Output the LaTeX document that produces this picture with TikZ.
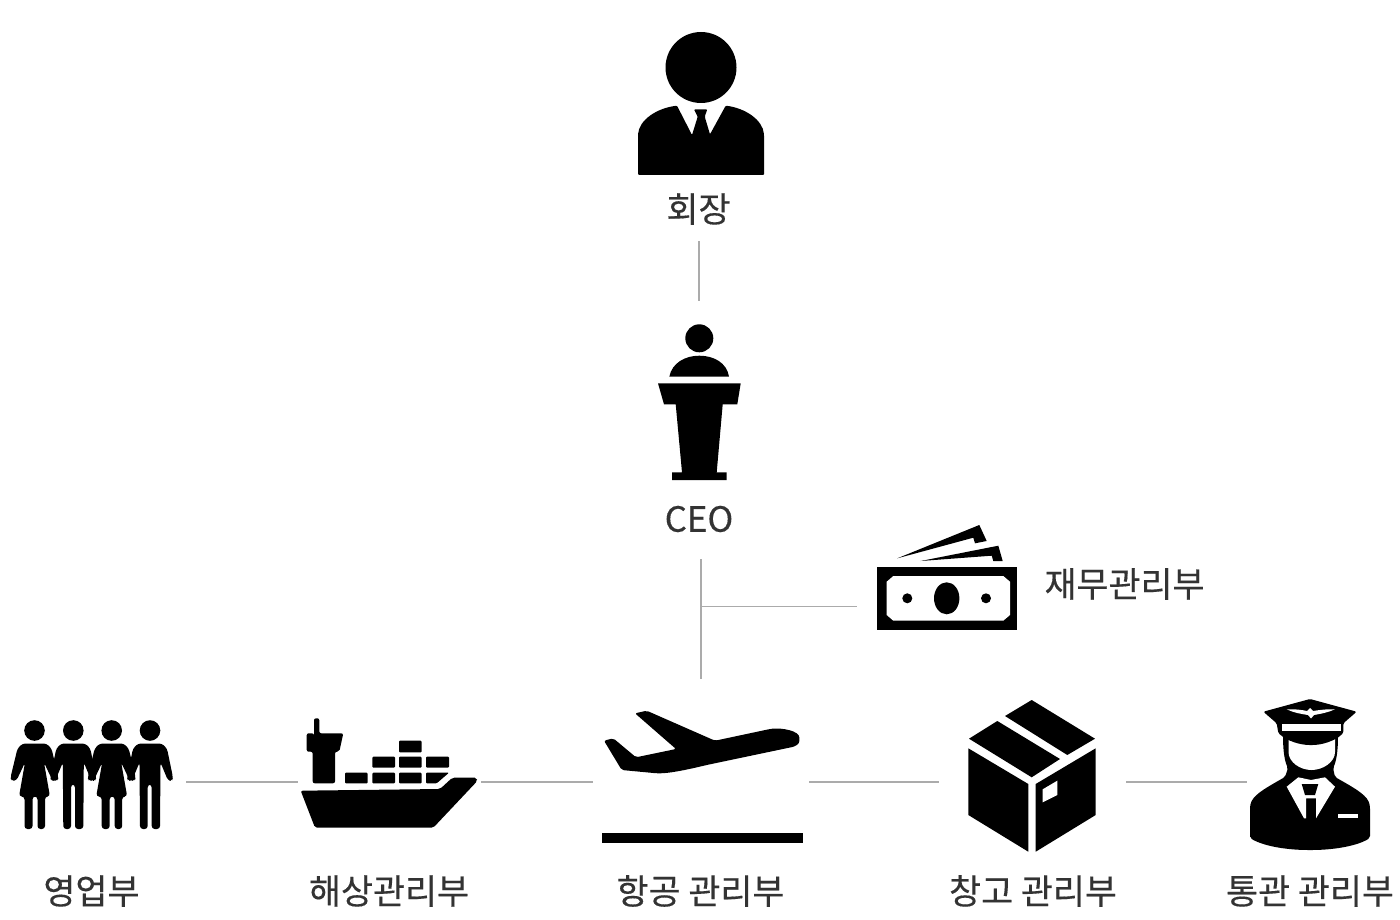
\documentclass[tikz,border=0pt]{standalone}
\usepackage{fontspec}
\setmainfont{Noto Sans CJK KR}[RawFeature={embolden=0.35}]
\definecolor{txt}{HTML}{333333}
\definecolor{linegray}{HTML}{ABABAB}
\tikzset{
  label/.style={inner sep=0pt,text=txt,font=\fontsize{34.8}{40}\selectfont,anchor=center},
  link/.style={draw=linegray,line width=1.5pt},
  ico/.style={fill=black,draw=none},
  hole/.style={fill=white,draw=none},
  woman/.pic={
    \fill[black] (0,-13) circle (10.3);
    \fill[black,rounded corners=3pt] (-12,0) -- (12,0) -- (17,5) -- (24,34) -- (23,37.5) -- (18,37) -- (9.5,19) -- (15.5,53) -- (10.5,53) -- (10.5,85.5) -- (3,85.5) -- (3,53) -- (-2,53) -- (-2,85.5) -- (-10,85.5) -- (-10,53) -- (-15.5,53) -- (-9.5,19) -- (-18,37) -- (-23,37.5) -- (-24,34) -- (-17,5) -- cycle;
  },
  man/.pic={
    \fill[black] (0,-13) circle (10.3);
    \fill[black,rounded corners=3pt] (-12,0) -- (12,0) -- (17,5) -- (23,34) -- (22,37.5) -- (18,37) -- (10.5,19) -- (10,85.5) -- (1.7,85.5) -- (1.7,41) -- (-2.3,41) -- (-2.3,85.5) -- (-10,85.5) -- (-10.5,19) -- (-18,37) -- (-22,37.5) -- (-23,34) -- (-17,5) -- cycle;
  }
}
\begin{document}
\begin{tikzpicture}[x=1pt,y=-1pt]
\useasboundingbox (0,0) rectangle (1400,920);
% labels
\node[label] (chair) at (698.5,209) {회장};
\node[label] (ceo) at (699,519) {CEO};
\node[label] (fin) at (1124.5,584) {재무관리부};
\node[label] (sales) at (91.5,891) {영업부};
\node[label] (sea) at (389,891) {해상관리부};
\node[label] (air) at (700.5,891) {항공 관리부};
\node[label] (ware) at (1033,891) {창고 관리부};
\node[label] (cust) at (1310,891) {통관 관리부};
% connector ends
\coordinate (c1a) at (699,241); \coordinate (c1b) at (699,301);
\coordinate (c2a) at (701,559); \coordinate (c2b) at (701,679);
\coordinate (c2m) at (701,606.5); \coordinate (c2e) at (857,606.5);
\coordinate (h1a) at (186,782); \coordinate (h1b) at (298,782);
\coordinate (h2a) at (481,782); \coordinate (h2b) at (593,782);
\coordinate (h3a) at (809,782); \coordinate (h3b) at (939,782);
\coordinate (h4a) at (1126,782); \coordinate (h4b) at (1247,782);
\draw[link] (c1a) -- (c1b);
\draw[link] (c2a) -- (c2b);
\draw[link] (c2m) -- (c2e);
\draw[link] (h1a) -- (h1b);
\draw[link] (h2a) -- (h2b);
\draw[link] (h3a) -- (h3b);
\draw[link] (h4a) -- (h4b);
% chairman
\fill[ico] (701,67.5) circle (35.5);
\fill[ico,rounded corners=1pt] (638,175) -- (638,135) .. controls (639,120) and (657,108) .. (677,105.7) -- (692,135) -- (697.7,116.7) -- (694,109.3) -- (707.3,109.3) -- (704.7,116.7) -- (710,134.3) -- (725.7,105.7) .. controls (745,108) and (763,120) .. (764,135) -- (764,175) -- cycle;
% podium
\fill[ico] (699.3,338.3) circle (14);
\fill[ico] (669.3,376.7) .. controls (672,363) and (685,355.7) .. (699.3,355.7) .. controls (714,355.7) and (727,363) .. (729,376.7) -- cycle;
\fill[ico] (658,383.3) -- (740.7,383.3) -- (737.3,404.3) -- (722.7,404.3) -- (716.7,472.3) -- (726.7,472.3) -- (726.7,480) -- (672,480) -- (672,472.3) -- (682,472.3) -- (675.7,404.3) -- (664,404.3) -- cycle;
% money
\fill[ico] (877.3,566.7) rectangle (1016.7,630);
\fill[hole] (886.7,581.7) -- (893.3,576) -- (1003.3,576) -- (1010,581.7) -- (1010,615) -- (1003.3,620.7) -- (893.3,620.7) -- (886.7,615) -- cycle;
\fill[ico] (946.7,598.3) ellipse (12.7 and 16);
\fill[ico] (907.3,598.3) circle (5);
\fill[ico] (986,598.3) circle (5);
\fill[ico] (897.3,558.3) -- (979.3,525) -- (986.7,541) -- (975,543.3) -- (973.3,537.7) -- cycle;
\fill[ico] (920.7,561) -- (998.3,545.7) -- (1002.7,561) -- (993.3,561) -- (991.7,555.7) -- cycle;
% people
\pic at (34.5,743.5) {woman};
\pic at (73.3,743.5) {man};
\pic at (111.7,743.5) {woman};
\pic at (150,743.5) {man};
% ship
\fill[ico,rounded corners=2pt] (314,736) -- (314,718.3) -- (319.3,718.3) -- (319.3,733.3) -- (343.3,733.3) -- (339.3,751.7) -- (335,751.7) -- (335,783.3) -- (312.7,783.3) -- (312.7,751.7) -- (306.7,751.7) -- (306.7,733.3) -- (314,733.3) -- cycle;
\fill[ico,rounded corners=2pt] (300.7,790.7) -- (440,789) -- (452.3,777.7) -- (476.7,777.7) -- (477.3,781) -- (433.3,827.7) -- (315,827.7) -- cycle;
\foreach \xa/\xb/\ya/\yb in {345/367.7/772.7/783.3, 372.3/395/772.7/783.3, 399/421.7/772.7/783.3, 372.3/395/756.7/767.7, 399/421.7/756.7/767.7, 426/449/756.7/767.7, 399/421.7/740.7/752.3}
  \fill[ico,rounded corners=1pt] (\xa,\ya) rectangle (\xb,\yb);
\fill[ico,rounded corners=1pt] (426,772.7) -- (449,772.7) -- (436.7,783.3) -- (426,783.3) -- cycle;
% plane
\fill[ico,rounded corners=2pt] (635,713.3) -- (646.7,710.7) -- (715,740.7) -- (770,729) .. controls (782,727.5) and (799.3,731) .. (799.3,739.3) .. controls (799.3,744) and (795,746.5) .. (790,747.5) -- (706.7,765) .. controls (690,769) and (670,773.5) .. (656.7,773.3) -- (621.7,770) -- (604,740.7) -- (613.3,738.3) -- (636,757.3) -- (676,749) -- cycle;
\fill[ico] (601.7,832.7) rectangle (802.7,842.7);
% box
\fill[ico] (969,738.7) -- (997.3,721) -- (1060,759) -- (1031.7,777.3) -- cycle;
\fill[ico] (1005,716) -- (1031.7,700) -- (1095,738.7) -- (1067.3,755) -- cycle;
\fill[ico] (968.3,748.3) -- (1028.3,784) -- (1028.3,851.7) -- (968.3,815) -- cycle;
\fill[ico] (1035.7,784) -- (1095.7,748.3) -- (1095.7,815) -- (1035.7,851.7) -- cycle;
\fill[hole] (1042.7,789.3) -- (1057.3,780.7) -- (1057.3,795) -- (1042.7,802.3) -- cycle;
% pilot
\fill[ico,rounded corners=2pt] (1250,838) -- (1250,806.7) .. controls (1252,796) and (1262,790) .. (1285,777) -- (1288,768) .. controls (1285,762) and (1283,752) .. (1283,735) -- (1338,735) .. controls (1338,752) and (1336,762) .. (1333,768) -- (1335,777) .. controls (1358,790) and (1368,796) .. (1370,806.7) -- (1370,838) .. controls (1355,847) and (1330,850) .. (1310,850) .. controls (1290,850) and (1265,847) .. (1250,838) -- cycle;
\fill[hole] (1288.5,738) -- (1335,738) -- (1335,752) .. controls (1335,762) and (1323,770) .. (1311.5,770) .. controls (1300,770) and (1288.5,762) .. (1288.5,752) -- cycle;
\fill[ico,rounded corners=1.5pt] (1263.3,711.7) -- (1310,699) -- (1356.7,711.7) -- (1343.3,723.3) -- (1343.3,733) .. controls (1335,741) and (1322,745) .. (1311,745) .. controls (1300,745) and (1287,741) .. (1278.3,733) -- (1276.7,723.3) -- cycle;
\fill[hole] (1281.7,724.3) rectangle (1341,730.7);
\fill[hole] (1286.7,709.3) .. controls (1295,709) and (1303,710) .. (1307,711) -- (1310,708) -- (1313,711) .. controls (1319,710) and (1327,709) .. (1335,709.3) .. controls (1328,712.5) and (1320,714) .. (1314,715) -- (1311,718.5) -- (1308,715) .. controls (1301,714) and (1293,712.5) .. (1286.7,709.3) -- cycle;
\fill[hole] (1286.7,786.7) -- (1298.3,777.3) -- (1311,780) -- (1325,777.3) -- (1335,786.7) -- (1316,818.3) -- (1316,798.3) -- (1306,798.3) -- (1306,818.3) -- (1304,818.3) -- cycle;
\fill[ico] (1301.7,784) -- (1318.3,784) -- (1315,795) -- (1305,795) -- cycle;
\fill[hole] (1338.3,814) rectangle (1357.7,818);
\end{tikzpicture}
\end{document}
